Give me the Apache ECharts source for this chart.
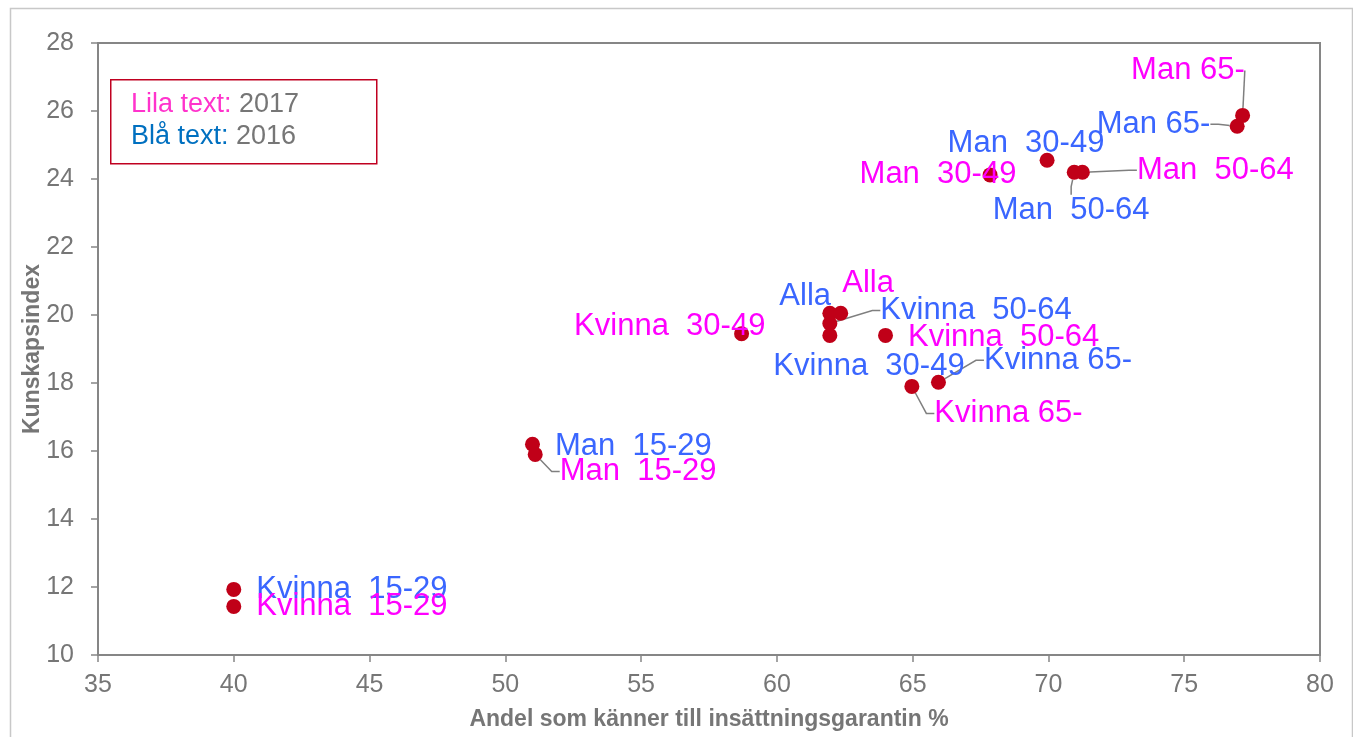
<!DOCTYPE html>
<html>
<head>
<meta charset="utf-8">
<script src="https://cdn.jsdelivr.net/npm/echarts@6/dist/echarts.min.js"></script>
<style>
  html, body { margin: 0; padding: 0; background: #fff; }
  #chart { width: 1353px; height: 737px; }
</style>
</head>
<body>
<div id="chart"></div>
<script>
// grupper (samma ordning i båda åren)
var groups = ['Kvinna  15-29', 'Man  15-29', 'Kvinna  30-49', 'Man  30-49',
  'Kvinna  50-64', 'Man  50-64', 'Kvinna 65-', 'Man 65-', 'Alla']

// 2016 (blå text)
var x2016 = [40, 51, 61.95, 69.95, 61.95, 70.95, 65.95, 76.95, 61.95]
var y2016 = [11.93, 16.2, 19.4, 24.55, 19.75, 24.2, 18.02, 25.55, 20.05]

// 2017 (lila text)
var x2017 = [40, 51.1, 58.7, 67.85, 64.0, 71.25, 64.97, 77.15, 62.35]
var y2017 = [11.43, 15.9, 19.45, 24.12, 19.4, 24.2, 17.9, 25.87, 20.05]

// var ticks
var xTicks = [35, 40, 45, 50, 55, 60, 65, 70, 75, 80]
var yTicks = [10, 12, 14, 16, 18, 20, 22, 24, 26, 28]

// etikettplacering [dx, dy, visa linje, length2, etikettbredd]
var off2016 = [[10, 0, 0, 8, 0], [10, 2, 0, 8, 0], [-69, 31, 0, 8, 0], [-112, -17, 0, 8, 0],
  [38, -13, 1, 8, 0], [-94, 38, 1, 8, 0], [33, -22, 1, 8, 0], [-153, -2, 1, 8, 0], [-63, -17, 0, 8, 0]]
var off2017 = [[10, 0, 0, 8, 0], [12, 17, 1, 8, 0], [-180, -7, 0, 8, 0], [-143, 0, 0, 8, 0],
  [10, 2, 0, 8, 0], [42, -2, 1, 8, 0], [10, 27, 1, 8, 0], [-124, -45, 1, 0, 148], [-11, -30, 0, 8, 0]]

var font = 'Liberation Sans, Arial, sans-serif'
var grey = '#767676'

function buildData (xs, ys, offs) {
  return groups.map(function (g, i) {
    var item = {
      value: [xs[i], ys[i]],
      name: g,
      labelLine: { show: !!offs[i][2], length2: offs[i][3] }
    }
    if (offs[i][4]) item.label = { width: offs[i][4], align: 'left' }
    return item
  })
}

function makeSeries (name, xs, ys, offs, color) {
  return {
    name: name,
    type: 'scatter',
    symbolSize: 15,
    itemStyle: { color: '#c00018', opacity: 1 },
    data: buildData(xs, ys, offs),
    label: {
      show: true,
      position: 'right',
      distance: 5,
      formatter: '{b}',
      color: color,
      fontSize: 31,
      fontFamily: font
    },
    labelLine: {
      show: false,
      length2: 8,
      lineStyle: { color: '#7f7f7f', width: 1.5 }
    },
    labelLayout: function (params) {
      var o = offs[params.dataIndex]
      return { dx: o[0], dy: o[1] }
    }
  }
}

var chart = echarts.init(document.getElementById('chart'))
chart.setOption({
  animation: false,
  grid: {
    left: 98,
    right: 33,
    top: 43,
    bottom: 82,
    outerBoundsMode: 'none',
    containLabel: false,
    show: true,
    borderColor: '#868686',
    borderWidth: 2
  },
  xAxis: {
    type: 'value',
    min: xTicks[0],
    max: xTicks[xTicks.length - 1],
    interval: 5,
    name: 'Andel som känner till insättningsgarantin %',
    nameLocation: 'middle',
    nameGap: 53,
    nameMoveOverlap: false,
    nameTextStyle: { color: grey, fontSize: 23, fontWeight: 'bold', fontFamily: font },
    axisLine: { show: true, lineStyle: { color: '#868686', width: 2 } },
    axisTick: { show: true, length: 7, lineStyle: { color: '#868686', width: 1.5 } },
    axisLabel: { color: grey, fontSize: 25, margin: 18, fontFamily: font },
    splitLine: { show: false }
  },
  yAxis: {
    type: 'value',
    min: yTicks[0],
    max: yTicks[yTicks.length - 1],
    interval: 2,
    name: 'Kunskapsindex',
    nameLocation: 'middle',
    nameGap: 54,
    nameMoveOverlap: false,
    nameTextStyle: { color: grey, fontSize: 23, fontWeight: 'bold', fontFamily: font },
    axisLine: { show: true, lineStyle: { color: '#868686', width: 2 } },
    axisTick: { show: true, length: 7, lineStyle: { color: '#868686', width: 1.5 } },
    axisLabel: { color: grey, fontSize: 25, margin: 24, fontFamily: font },
    splitLine: { show: false }
  },
  graphic: [
    {
      type: 'rect',
      left: 8,
      top: 6,
      shape: { width: 1342, height: 740 },
      style: { fill: 'none', stroke: '#c8c8c8', lineWidth: 1.5 },
      silent: true
    },
    {
      type: 'rect',
      left: 110,
      top: 79,
      shape: { width: 266, height: 84 },
      style: { fill: '#fff', stroke: '#c00020', lineWidth: 1.5 },
      z: 10
    },
    {
      type: 'text',
      left: 131,
      top: 89,
      z: 11,
      style: {
        text: '{a|Lila text:} {g|2017}\n{b|Blå text:} {g|2016}',
        font: '27px ' + font,
        lineHeight: 32,
        rich: {
          a: { fill: '#ff33cc', fontSize: 27, fontFamily: font, lineHeight: 32 },
          b: { fill: '#0070c0', fontSize: 27, fontFamily: font, lineHeight: 32 },
          g: { fill: grey, fontSize: 27, fontFamily: font, lineHeight: 32 }
        }
      }
    }
  ],
  series: [
    makeSeries('2016', x2016, y2016, off2016, '#3a66ff'),
    makeSeries('2017', x2017, y2017, off2017, '#ff00ff')
  ]
})
</script>
</body>
</html>
